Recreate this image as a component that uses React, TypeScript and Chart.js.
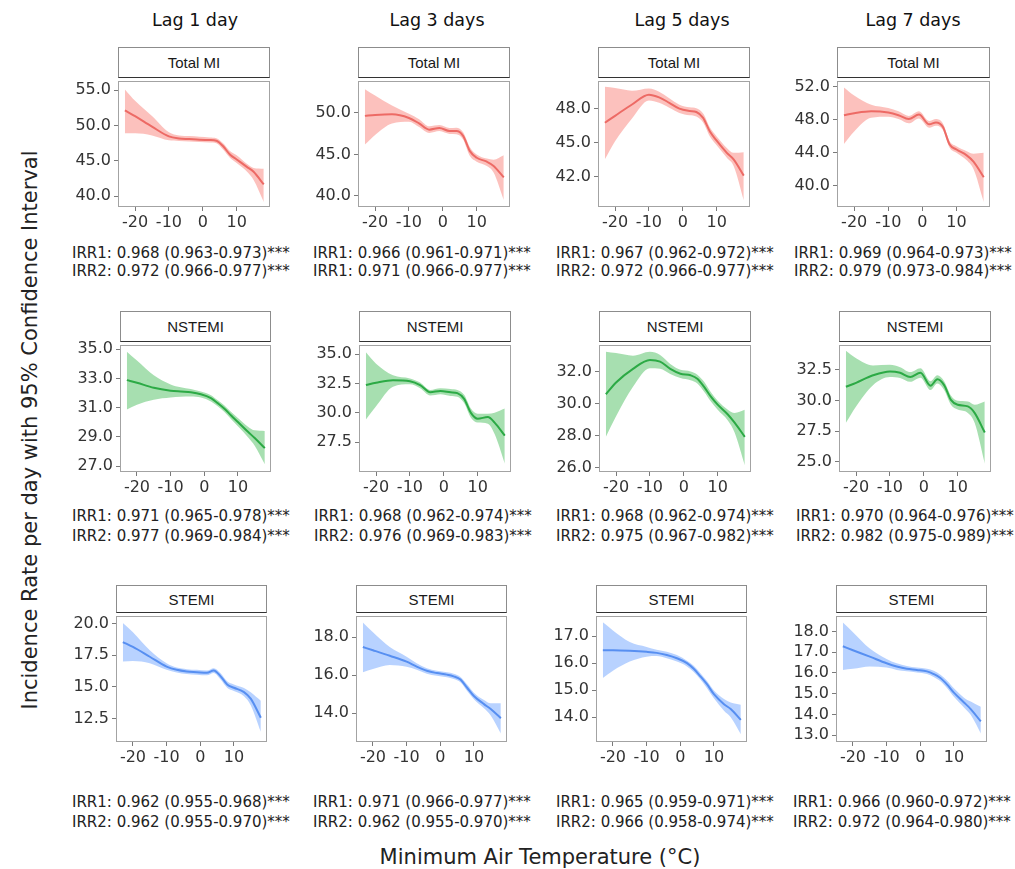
import React, { useEffect, useRef } from "react";
import { Chart, registerables } from "chart.js";

Chart.register(...registerables);

// ---------- data ----------
const temperature = [-23, -20, -15, -10, -7, -4, -1, 2, 4, 6, 8, 10, 13, 15, 18];
const xTickValues = [-20, -10, 0, 10];
const lagLabels = ["Lag 1 day", "Lag 3 days", "Lag 5 days", "Lag 7 days"];
const outcomeLabels = ["Total MI", "NSTEMI", "STEMI"];

// Total MI
const totalLag1Fit = [52.14, 51.31, 49.83, 48.45, 48.17, 48.08, 47.98, 47.94, 47.85, 47.06, 45.9, 45.2, 44.15, 43.46, 41.66];
const totalLag1Lower = [48.9, 48.9, 48.6, 47.9, 47.8, 47.75, 47.65, 47.6, 47.5, 46.6, 45.45, 44.7, 43.5, 42.3, 39.2];
const totalLag1Upper = [55.1, 53.5, 51.35, 49.05, 48.6, 48.5, 48.4, 48.3, 48.2, 47.5, 46.4, 45.8, 44.6, 44.0, 43.9];

const totalLag3Fit = [49.65, 49.76, 49.84, 49.4, 48.74, 47.99, 48.19, 47.83, 47.83, 47.24, 45.4, 44.6, 44.13, 43.62, 42.24];
const totalLag3Lower = [46.2, 47.36, 48.74, 48.94, 48.31, 47.6, 47.83, 47.48, 47.44, 46.81, 44.8, 44.13, 43.62, 42.83, 39.5];
const totalLag3Upper = [52.87, 52.1, 50.9, 49.9, 49.25, 48.39, 48.54, 48.19, 48.23, 47.68, 45.87, 45.0, 44.5, 44.37, 44.9];

const totalLag5Fit = [46.76, 47.37, 48.37, 49.24, 49.0, 48.52, 48.0, 47.8, 47.71, 47.19, 45.98, 45.17, 44.1, 43.53, 42.09];
const totalLag5Lower = [43.53, 45.12, 47.13, 48.72, 48.52, 48.09, 47.63, 47.42, 47.31, 46.79, 45.55, 44.77, 43.67, 42.95, 39.92];
const totalLag5Upper = [49.93, 49.82, 49.59, 49.79, 49.5, 48.92, 48.35, 48.12, 48.03, 47.57, 46.33, 45.55, 44.54, 44.1, 44.16];

const totalLag7Fit = [48.54, 48.78, 49.02, 48.86, 48.54, 48.07, 48.62, 47.43, 47.67, 47.15, 44.97, 44.37, 43.66, 42.9, 41.0];
const totalLag7Lower = [45.05, 46.56, 48.23, 48.34, 48.07, 47.55, 48.15, 47.03, 47.27, 46.76, 44.57, 43.97, 43.06, 41.99, 38.0];
const totalLag7Upper = [51.92, 50.93, 49.81, 49.42, 49.02, 48.46, 49.02, 47.83, 48.07, 47.55, 45.37, 44.77, 44.17, 43.86, 43.97];

// NSTEMI
const nstemiLag1Fit = [32.88, 32.7, 32.36, 32.16, 32.1, 32.05, 31.92, 31.65, 31.31, 30.93, 30.46, 30.02, 29.35, 28.92, 28.23];
const nstemiLag1Lower = [30.87, 31.2, 31.54, 31.69, 31.74, 31.76, 31.69, 31.42, 31.1, 30.7, 30.2, 29.72, 28.98, 28.4, 27.13];
const nstemiLag1Upper = [34.82, 34.22, 33.21, 32.59, 32.39, 32.27, 32.1, 31.85, 31.5, 31.15, 30.7, 30.3, 29.7, 29.45, 29.41];

const nstemiLag3Fit = [32.36, 32.56, 32.78, 32.69, 32.36, 31.75, 31.86, 31.75, 31.67, 31.19, 30.0, 29.5, 29.64, 29.17, 28.06];
const nstemiLag3Lower = [29.44, 30.56, 32.22, 32.42, 32.08, 31.47, 31.58, 31.44, 31.36, 30.83, 29.58, 29.17, 29.08, 28.19, 25.69];
const nstemiLag3Upper = [35.14, 34.17, 33.19, 32.92, 32.58, 31.94, 32.08, 32.03, 31.94, 31.53, 30.36, 29.92, 29.92, 30.0, 30.36];

const nstemiLag5Fit = [30.58, 31.31, 32.16, 32.71, 32.61, 32.16, 31.86, 31.76, 31.55, 31.04, 30.43, 29.93, 29.32, 28.81, 27.93];
const nstemiLag5Lower = [27.93, 29.21, 31.04, 32.2, 32.16, 31.84, 31.59, 31.45, 31.25, 30.74, 30.13, 29.62, 28.95, 28.2, 26.16];
const nstemiLag5Upper = [33.22, 33.14, 32.98, 33.22, 33.02, 32.47, 32.1, 32.0, 31.8, 31.35, 30.7, 30.17, 29.62, 29.42, 29.62];

const nstemiLag7Fit = [31.12, 31.44, 32.05, 32.37, 32.26, 31.91, 32.26, 31.2, 31.73, 31.25, 30.05, 29.65, 29.52, 28.99, 27.39];
const nstemiLag7Lower = [28.19, 29.52, 31.25, 31.91, 31.84, 31.52, 31.86, 30.85, 31.38, 30.85, 29.65, 29.26, 28.99, 28.19, 24.87];
const nstemiLag7Upper = [34.04, 33.43, 32.85, 32.9, 32.71, 32.31, 32.63, 31.57, 32.05, 31.57, 30.4, 29.97, 29.92, 29.65, 29.92];

// STEMI
const stemiLag1Fit = [18.54, 18.15, 17.38, 16.61, 16.35, 16.22, 16.17, 16.12, 16.3, 15.86, 15.2, 14.94, 14.6, 14.08, 12.58];
const stemiLag1Lower = [17.0, 17.05, 16.87, 16.35, 16.15, 16.02, 15.97, 15.92, 16.1, 15.6, 14.94, 14.68, 14.27, 13.56, 11.47];
const stemiLag1Upper = [20.03, 19.31, 17.89, 16.87, 16.53, 16.4, 16.35, 16.3, 16.48, 16.1, 15.45, 15.2, 14.92, 14.58, 13.91];

const stemiLag3Fit = [17.48, 17.31, 17.02, 16.71, 16.45, 16.23, 16.11, 16.03, 15.94, 15.77, 15.34, 14.91, 14.48, 14.22, 13.74];
const stemiLag3Lower = [16.16, 16.33, 16.54, 16.44, 16.28, 16.08, 15.97, 15.89, 15.8, 15.63, 15.17, 14.74, 14.26, 13.88, 12.94];
const stemiLag3Upper = [18.77, 18.26, 17.48, 16.97, 16.63, 16.37, 16.23, 16.15, 16.08, 15.91, 15.51, 15.08, 14.69, 14.52, 14.52];

const stemiLag5Fit = [16.48, 16.48, 16.46, 16.42, 16.38, 16.3, 16.18, 16.0, 15.79, 15.51, 15.21, 14.85, 14.48, 14.3, 13.9];
const stemiLag5Lower = [15.45, 15.72, 16.06, 16.24, 16.26, 16.18, 16.06, 15.88, 15.67, 15.39, 15.06, 14.7, 14.24, 14.0, 13.37];
const stemiLag5Upper = [17.51, 17.21, 16.78, 16.6, 16.5, 16.42, 16.3, 16.09, 15.9, 15.63, 15.33, 14.99, 14.67, 14.54, 14.46];

const stemiLag7Fit = [17.29, 17.1, 16.79, 16.47, 16.31, 16.2, 16.15, 16.08, 15.95, 15.76, 15.44, 15.05, 14.58, 14.26, 13.66];
const stemiLag7Lower = [16.15, 16.2, 16.31, 16.26, 16.15, 16.08, 16.03, 15.95, 15.81, 15.6, 15.26, 14.85, 14.34, 13.98, 13.08];
const stemiLag7Upper = [18.44, 17.97, 17.18, 16.68, 16.47, 16.34, 16.26, 16.2, 16.11, 15.92, 15.63, 15.26, 14.81, 14.62, 14.37];

// y-axis tick labels per panel
const totalTicks = [[40, 45, 50, 55], [40, 45, 50], [42, 45, 48], [40, 44, 48, 52]];
const nstemiTicks = [[27, 29, 31, 33, 35], [27.5, 30, 32.5, 35], [26, 28, 30, 32], [25, 27.5, 30, 32.5]];
const stemiTicks = [[12.5, 15, 17.5, 20], [14, 16, 18], [14, 15, 16, 17], [13, 14, 15, 16, 17, 18]];

// y-axis ranges per panel
const totalRanges = [[38.48, 56.34], [38.67, 53.9], [39.32, 50.48], [37.38, 52.75]];
const nstemiRanges = [[26.6, 35.31], [24.97, 35.8], [25.74, 33.67], [24.18, 34.55]];
const stemiRanges = [[10.67, 20.62], [12.49, 19.13], [13.08, 17.76], [12.67, 18.77]];

// IRR annotation texts
const totalIrr = [
  ["IRR1: 0.968 (0.963-0.973)***", "IRR2: 0.972 (0.966-0.977)***"],
  ["IRR1: 0.966 (0.961-0.971)***", "IRR1: 0.971 (0.966-0.977)***"],
  ["IRR1: 0.967 (0.962-0.972)***", "IRR2: 0.972 (0.966-0.977)***"],
  ["IRR1: 0.969 (0.964-0.973)***", "IRR2: 0.979 (0.973-0.984)***"],
];
const nstemiIrr = [
  ["IRR1: 0.971 (0.965-0.978)***", "IRR2: 0.977 (0.969-0.984)***"],
  ["IRR1: 0.968 (0.962-0.974)***", "IRR2: 0.976 (0.969-0.983)***"],
  ["IRR1: 0.968 (0.962-0.974)***", "IRR2: 0.975 (0.967-0.982)***"],
  ["IRR1: 0.970 (0.964-0.976)***", "IRR2: 0.982 (0.975-0.989)***"],
];
const stemiIrr = [
  ["IRR1: 0.962 (0.955-0.968)***", "IRR2: 0.962 (0.955-0.970)***"],
  ["IRR1: 0.971 (0.966-0.977)***", "IRR2: 0.962 (0.955-0.970)***"],
  ["IRR1: 0.965 (0.959-0.971)***", "IRR2: 0.966 (0.958-0.974)***"],
  ["IRR1: 0.966 (0.960-0.972)***", "IRR2: 0.972 (0.964-0.980)***"],
];

const xRange = [-25.04, 19.84];

// ---------- layout ----------
const FONT = "'DejaVu Sans', sans-serif";
const rowLayout = [
  { stripTop: 47, plotTop: 78, plotBottom: 207, cols: [[118, 270], [358, 510], [598, 750], [837, 990]], irrY: [253, 271], irrX: [72, 313, 556, 794] },
  { stripTop: 311, plotTop: 342, plotBottom: 472, cols: [[120, 271], [359, 511], [599, 751], [839, 991]], irrY: [516, 536], irrX: [72, 314, 556, 796] },
  { stripTop: 585, plotTop: 613, plotBottom: 742, cols: [[116, 267], [356, 507], [596, 747], [836, 987]], irrY: [802, 822], irrX: [72, 313, 556, 793] },
];
const colTitleX = [195, 437, 682, 913];
const rowStyles = [
  { line: "#e3625f", band: "rgba(248,118,109,0.45)" },
  { line: "#1f9e3c", band: "rgba(60,185,80,0.45)" },
  { line: "#4f85e6", band: "rgba(97,156,255,0.45)" },
];

const series = [
  [
    [totalLag1Fit, totalLag1Lower, totalLag1Upper],
    [totalLag3Fit, totalLag3Lower, totalLag3Upper],
    [totalLag5Fit, totalLag5Lower, totalLag5Upper],
    [totalLag7Fit, totalLag7Lower, totalLag7Upper],
  ],
  [
    [nstemiLag1Fit, nstemiLag1Lower, nstemiLag1Upper],
    [nstemiLag3Fit, nstemiLag3Lower, nstemiLag3Upper],
    [nstemiLag5Fit, nstemiLag5Lower, nstemiLag5Upper],
    [nstemiLag7Fit, nstemiLag7Lower, nstemiLag7Upper],
  ],
  [
    [stemiLag1Fit, stemiLag1Lower, stemiLag1Upper],
    [stemiLag3Fit, stemiLag3Lower, stemiLag3Upper],
    [stemiLag5Fit, stemiLag5Lower, stemiLag5Upper],
    [stemiLag7Fit, stemiLag7Lower, stemiLag7Upper],
  ],
];
const tickSets = [totalTicks, nstemiTicks, stemiTicks];
const rangeSets = [totalRanges, nstemiRanges, stemiRanges];
const irrSets = [totalIrr, nstemiIrr, stemiIrr];

const PAD_L = 62;
const PAD_R = 8;
const PAD_T = 10;
const PAD_B = 30;

const framePlugin = {
  id: "panelFrame",
  afterDraw(chart: any) {
    const { ctx, chartArea } = chart;
    ctx.save();
    ctx.strokeStyle = "#a3a3a3";
    ctx.lineWidth = 1;
    ctx.strokeRect(
      Math.round(chartArea.left) + 0.5,
      Math.round(chartArea.top) + 0.5,
      Math.round(chartArea.right - chartArea.left) - 1,
      Math.round(chartArea.bottom - chartArea.top) - 1
    );
    ctx.restore();
  },
};

function Panel({ row, col }: { row: number; col: number }) {
  const ref = useRef<HTMLCanvasElement | null>(null);
  const lay = rowLayout[row];
  const [pl, pr] = lay.cols[col];
  const plotW = pr - pl;
  const plotH = lay.plotBottom - lay.plotTop;
  const cw = plotW + PAD_L + PAD_R;
  const ch = plotH + PAD_T + PAD_B;

  useEffect(() => {
    const [fit, lower, upper] = series[row][col];
    const [ymin, ymax] = rangeSets[row][col];
    const yTicks = tickSets[row][col];
    const st = rowStyles[row];
    const pts = (arr: number[]) => arr.map((y, i) => ({ x: temperature[i], y }));
    const tickFont = { family: FONT, size: 16 };
    const chart = new Chart(ref.current as HTMLCanvasElement, {
      type: "line",
      data: {
        datasets: [
          {
            data: pts(lower),
            borderWidth: 0,
            pointRadius: 0,
            fill: false,
            backgroundColor: st.band,
            borderColor: "rgba(0,0,0,0)",
            cubicInterpolationMode: "monotone",
          },
          {
            data: pts(upper),
            borderWidth: 0,
            pointRadius: 0,
            fill: "-1",
            backgroundColor: st.band,
            borderColor: "rgba(0,0,0,0)",
            cubicInterpolationMode: "monotone",
          },
          {
            data: pts(fit),
            borderWidth: 2,
            pointRadius: 0,
            fill: false,
            borderColor: st.line,
            cubicInterpolationMode: "monotone",
          },
        ],
      } as any,
      options: {
        responsive: false,
        maintainAspectRatio: false,
        animation: false,
        events: [],
        layout: { padding: { top: PAD_T, right: PAD_R, left: 0, bottom: 0 } },
        plugins: {
          legend: { display: false },
          tooltip: { enabled: false },
        },
        scales: {
          x: {
            type: "linear",
            min: xRange[0],
            max: xRange[1],
            afterBuildTicks: (s: any) => {
              s.ticks = xTickValues.map((v) => ({ value: v }));
            },
            afterFit: (s: any) => {
              s.height = PAD_B;
            },
            ticks: {
              font: tickFont,
              color: "#333",
              padding: 2,
              maxRotation: 0,
              autoSkip: false,
              callback: (v: any) => String(v),
            },
            grid: { display: true, drawOnChartArea: false, drawTicks: true, tickLength: 4, color: "#7a7a7a" },
            border: { display: false },
          },
          y: {
            type: "linear",
            min: ymin,
            max: ymax,
            afterBuildTicks: (s: any) => {
              s.ticks = yTicks.map((v) => ({ value: v }));
            },
            afterFit: (s: any) => {
              s.width = PAD_L;
            },
            ticks: {
              font: tickFont,
              color: "#333",
              padding: 3,
              autoSkip: false,
              callback: (v: any) => Number(v).toFixed(1),
            },
            grid: { display: true, drawOnChartArea: false, drawTicks: true, tickLength: 4, color: "#7a7a7a" },
            border: { display: false },
          },
        },
      } as any,
      plugins: [framePlugin],
    });
    return () => chart.destroy();
  }, [row, col]);

  const irr = irrSets[row][col];
  return (
    <>
      <div
        style={{
          position: "absolute",
          left: pl,
          top: lay.stripTop,
          width: plotW,
          height: lay.plotTop - lay.stripTop,
          boxSizing: "border-box",
          border: "1px solid #8c8c8c",
          borderBottom: "1.5px solid #333",
          background: "#fff",
          display: "flex",
          alignItems: "center",
          justifyContent: "center",
          fontFamily: "'Liberation Sans', Arial, sans-serif",
          fontSize: 15,
          color: "#1a1a1a",
        }}
      >
        {outcomeLabels[row]}
      </div>
      <canvas
        ref={ref}
        width={cw}
        height={ch}
        style={{ position: "absolute", left: pl - PAD_L, top: lay.plotTop - PAD_T, width: cw, height: ch }}
      />
      {irr.map((t, i) => (
        <div
          key={i}
          style={{
            position: "absolute",
            left: lay.irrX[col],
            top: lay.irrY[i] - 9,
            lineHeight: "18px",
            fontFamily: FONT,
            fontSize: 15,
            color: "#222",
            whiteSpace: "nowrap",
          }}
        >
          {t}
        </div>
      ))}
    </>
  );
}

export default function App() {
  const panels: JSX.Element[] = [];
  for (let r = 0; r < 3; r++) for (let c = 0; c < 4; c++) panels.push(<Panel key={`${r}-${c}`} row={r} col={c} />);
  return (
    <div style={{ position: "absolute", left: 0, top: 0, width: 1015, height: 869, background: "#fff", overflow: "hidden" }}>
      {lagLabels.map((t, i) => (
        <div
          key={t}
          style={{
            position: "absolute",
            left: colTitleX[i],
            top: 20,
            transform: "translate(-50%, -50%)",
            fontFamily: FONT,
            fontSize: 17.5,
            color: "#111",
            whiteSpace: "nowrap",
          }}
        >
          {t}
        </div>
      ))}
      {panels}
      <div
        style={{
          position: "absolute",
          left: 30,
          top: 430,
          transform: "translate(-50%, -50%) rotate(-90deg)",
          fontFamily: FONT,
          fontSize: 21,
          color: "#222",
          whiteSpace: "nowrap",
        }}
      >
        Incidence Rate per day with 95% Confidence Interval
      </div>
      <div
        style={{
          position: "absolute",
          left: 540,
          top: 857,
          transform: "translate(-50%, -50%)",
          fontFamily: FONT,
          fontSize: 21,
          color: "#222",
          whiteSpace: "nowrap",
        }}
      >
        Minimum Air Temperature (°C)
      </div>
    </div>
  );
}
